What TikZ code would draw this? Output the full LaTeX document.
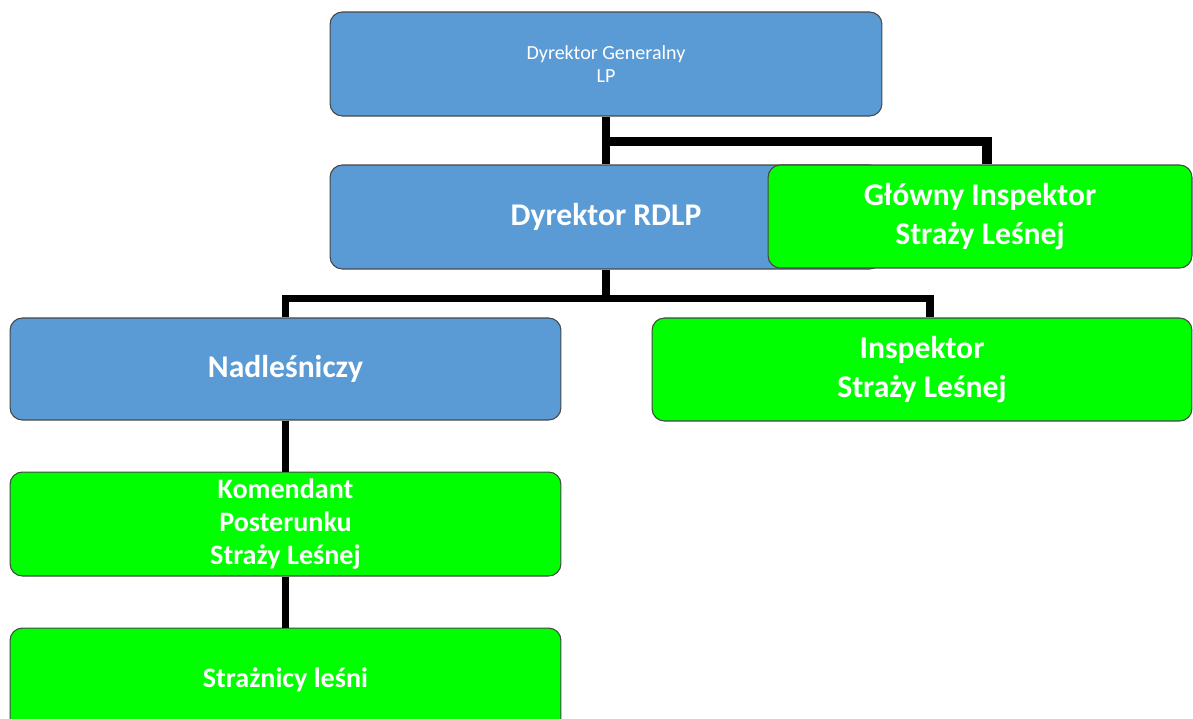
\documentclass[tikz,border=0pt]{standalone}
\usepackage{fontspec}
\setmainfont{Carlito}
\usepackage{tikz}
\usetikzlibrary{positioning}

\definecolor{boxblue}{RGB}{91,155,213}
\definecolor{boxgreen}{RGB}{0,255,0}
\definecolor{boxedge}{RGB}{70,70,70}

\begin{document}
\begin{tikzpicture}[
  x=0.02cm, y=-0.02cm,
  node distance=1.02cm,
  box/.style={rectangle, draw=boxedge, line width=0.6pt, rounded corners=7pt, align=center, text=white, inner sep=2pt},
  bluebox/.style={box, fill=boxblue},
  greenbox/.style={box, fill=boxgreen},
  big/.style={font=\fontsize{18}{22.2}\selectfont\bfseries},
  mid/.style={font=\fontsize{16}{18.7}\selectfont\bfseries},
  conn/.style={line width=4.5pt, black}
]
\clip (0,0) rectangle (1193,719);
\fill[white] (0,0) rectangle (1193,719);
% upper levels
\node[bluebox, minimum width=11.04cm, minimum height=2.08cm, font=\fontsize{11.4}{13.6}\selectfont] (DG) at (606,64) {Dyrektor Generalny\\ LP};
\node[bluebox, big, minimum width=11.04cm, minimum height=2.08cm] (RDLP) at (606,217) {Dyrektor RDLP};
\node[greenbox, big, minimum width=8.48cm, minimum height=2.06cm] (GI) at (980,216.5) {Główny Inspektor\\ Straży Leśnej};
% lower levels
\node[bluebox, big, minimum width=11.02cm, minimum height=2.04cm] (NAD) at (285.5,369) {Nadleśniczy};
\node[greenbox, big, minimum width=10.8cm, minimum height=2.06cm] (INSP) at (922,369.5) {Inspektor\\ Straży Leśnej};
\node[greenbox, mid, minimum width=11.02cm, minimum height=2.08cm, below=of NAD] (KOM) {Komendant\\ Posterunku\\ Straży Leśnej};
\node[greenbox, mid, minimum width=11.02cm, minimum height=2.08cm, below=of KOM] (STR) {Strażnicy leśni};
% connectors
\draw[conn] (DG) -- (RDLP);
\draw[conn, line width=5.6pt] (DG.south) ++(0,25) -| ([xshift=0.14cm]GI.north);
\draw[conn] (RDLP.south) -- ++(0,29) coordinate (split);
\draw[conn] (NAD.north) |- (split) -| ([xshift=0.16cm]INSP.north);
\draw[conn] (NAD) -- (KOM);
\draw[conn] (KOM) -- (STR);
\end{tikzpicture}
\end{document}
